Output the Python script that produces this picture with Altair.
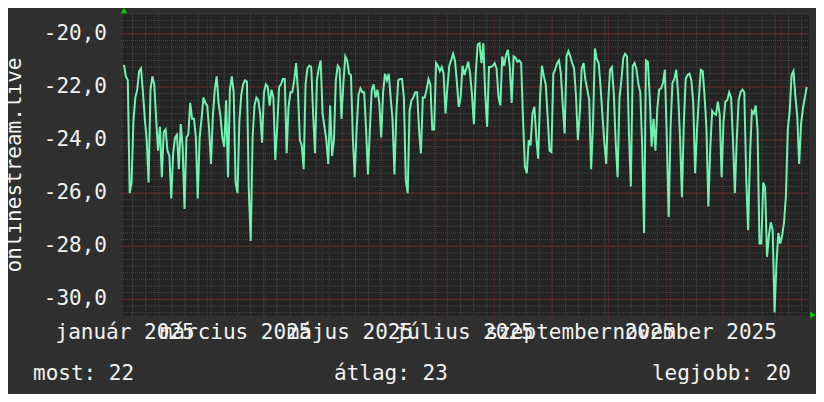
import altair as alt
import pandas as pd

# ---------------- data ----------------
series_start = "2025-01-15T11:00:00Z"   # first sample
sample_step_hours = 24.22               # spacing of samples
values = [
    # jan - mar
    -21.17, -21.61, -21.74, -26.0, -25.6, -23.25, -22.4, -22.1, -21.4, -21.3,
    -22.2, -23.2, -24.0, -25.6, -22.1, -21.6, -21.9, -23.2, -24.4, -23.5,
    -25.4, -23.7, -23.6, -24.4, -24.6, -26.2, -24.5, -23.9, -23.8, -25.1,
    -23.4, -24.25, -26.6, -23.9, -23.8, -22.6, -23.2, -23.2, -23.9, -26.2,
    -23.9, -23.2, -22.4, -22.6, -22.7, -23.6, -24.9, -23.1, -22.1, -21.6,
    -22.6, -23.1, -23.9, -24.25, -22.5, -25.4, -22.1, -21.6, -22.2, -25.6,
    -26.0, -23.3,
    # mar - may
    -22.3, -21.9, -21.75, -21.8, -25.9, -27.8, -23.9, -22.7, -22.4, -22.5,
    -23.0, -24.1, -22.2, -21.9, -22.0, -22.7, -22.1, -22.4, -24.75, -23.5,
    -22.0, -21.9, -21.7, -21.7, -24.5, -22.75, -22.2, -22.2, -21.75, -21.1,
    -22.2, -24.0, -24.2, -25.1, -21.9, -21.3, -21.2, -21.25, -23.0, -24.5,
    -21.75, -21.3, -21.0, -23.0, -23.5, -24.0, -24.9, -22.7, -24.6, -24.0,
    -21.75, -21.2, -21.3, -23.2, -21.85, -20.85, -21.0, -21.5, -21.55, -23.9,
    -25.4,
    # may - jul
    -23.6, -22.3, -22.05, -22.2, -22.2, -23.6, -25.3, -23.6, -22.1, -21.9,
    -22.4, -22.1, -22.6, -23.9, -22.2, -21.5, -21.75, -21.5, -22.4, -23.25,
    -25.3, -23.0, -21.75, -21.7, -21.7, -22.4, -25.5, -26.0, -22.9, -22.5,
    -22.4, -22.2, -22.2, -23.6, -24.5, -22.4, -22.4, -22.1, -21.7, -21.9,
    -23.6, -23.6, -21.1, -21.2, -21.4, -21.25, -21.5, -23.0, -22.0, -21.2,
    -21.0, -20.75, -21.0, -21.8, -22.75, -22.4, -21.2, -21.55, -21.3, -21.05,
    # jul - sep
    -21.5, -22.3, -23.4, -21.5, -20.4, -20.35, -21.1, -20.35, -22.25, -23.5,
    -21.25, -21.25, -21.2, -21.1, -21.3, -22.35, -22.7, -20.85, -21.2, -20.8,
    -20.6, -21.25, -22.6, -20.85, -20.9, -21.05, -21.0, -21.1, -23.25, -25.0,
    -25.25, -24.0, -24.2, -23.0, -22.75, -23.9, -24.7, -22.4, -21.2, -21.6,
    -21.9, -23.1, -24.4, -24.45, -21.5, -21.35, -21.1, -21.0, -21.5, -22.7,
    -23.75, -20.85, -20.65, -20.85, -21.1, -21.3, -22.35, -24.0, -23.0, -21.3,
    -21.1,
    # sep - nov
    -21.75, -22.1, -22.5, -25.1, -23.4, -20.55, -20.95, -21.1, -22.0, -23.1,
    -24.1, -24.9, -22.6, -21.35, -21.25, -22.25, -24.1, -25.4, -22.4, -21.75,
    -20.9, -20.75, -20.85, -23.75, -25.75, -21.2, -21.1, -21.35, -21.9, -22.2,
    -24.25, -27.5, -21.0, -21.05, -22.4, -24.25, -23.2, -24.4, -22.8, -22.1,
    -22.05, -21.85, -21.35, -23.9, -26.9, -23.5, -21.85, -21.7, -21.35, -22.25,
    -23.9, -26.15, -23.4, -21.7, -21.55, -21.5, -21.75, -22.6, -25.25, -23.6,
    -22.4,
    # nov - jan
    -21.35, -21.4, -22.35, -23.6, -26.5, -24.3, -22.9, -23.0, -23.05, -22.55,
    -23.05, -25.4, -23.3, -22.55, -22.5, -22.2, -22.4, -24.0, -26.0, -24.0,
    -22.5, -22.2, -22.1, -22.2, -25.4, -27.4, -24.6, -22.9, -23.0, -22.7,
    -23.6, -27.9, -27.9, -25.6, -25.8, -28.4, -27.6, -27.1, -27.4, -30.5,
    -28.65, -27.5, -27.9, -27.6, -27.1, -26.1, -23.6, -22.9, -21.55, -21.4,
    -22.35, -23.1, -24.9, -23.4, -22.8, -22.4, -22.0,
]

month_lines = ["2025-02-01", "2025-03-01", "2025-04-01", "2025-05-01", "2025-06-01",
               "2025-07-01", "2025-08-01", "2025-09-01", "2025-10-01", "2025-11-01",
               "2025-12-01", "2026-01-01"]
month_label_dates = ["2025-01-16", "2025-03-16", "2025-05-16", "2025-07-16",
                     "2025-09-16", "2025-11-16"]
month_label_texts = ["január 2025", "március 2025", "május 2025", "július 2025",
                     "szeptember 2025", "november 2025"]
y_major = [-30, -28, -26, -24, -22, -20]
y_major_labels = ["-30,0", "-28,0", "-26,0", "-24,0", "-22,0", "-20,0"]
y_title = "onlinestream.live"
legend_texts = ["most: 22", "átlag: 23", "legjobb: 20"]

# ---------------- tables ----------------
t0 = pd.Timestamp(series_start)
df = pd.DataFrame({
    "t": [(t0 + pd.Timedelta(hours=sample_step_hours * i)).strftime("%Y-%m-%dT%H:%M:%SZ")
          for i in range(len(values))],
    "v": values,
})
weeks = pd.date_range("2025-01-20", "2026-01-12", freq="7D").strftime("%Y-%m-%d").tolist()
minor_df = pd.DataFrame({"t": weeks})
major_df = pd.DataFrame({"t": month_lines})
ylab_df = pd.DataFrame({"v": y_major, "lab": y_major_labels})
yminor_df = pd.DataFrame({"v": [-30.5 + 0.25 * k for k in range(46)]})
xlab_df = pd.DataFrame({"t": month_label_dates, "lab": month_label_texts})

W, H = 686, 302
FONT = "DejaVu Sans Mono"
FS = 21
TXT = "#f2f2f2"
MINOR = "#464646"
MAJOR = "#682b2b"

xs = alt.Scale(type="utc", domain=[
    alt.DateTime(year=2025, month=1, date=14, hours=22, minutes=10, utc=True),
    alt.DateTime(year=2026, month=1, date=15, hours=23, minutes=36, utc=True)])
ys = alt.Scale(domain=[-30.63, -19.25], nice=False, zero=False)
X = lambda: alt.X("t:T", scale=xs, axis=None)
Y = lambda: alt.Y("v:Q", scale=ys, axis=None)
one = alt.Data(values=[{}])

minor_v = alt.Chart(minor_df).mark_rule(color=MINOR, strokeWidth=1, strokeDash=[1, 1]).encode(
    x=X(), y=alt.value(0), y2=alt.value(H + 2))
minor_h = alt.Chart(yminor_df).mark_rule(color=MINOR, strokeWidth=1, strokeDash=[1, 1]).encode(
    y=Y(), x=alt.value(-2), x2=alt.value(W))
major_v = alt.Chart(major_df).mark_rule(color=MAJOR, strokeWidth=1, strokeDash=[1, 1]).encode(
    x=X(), y=alt.value(0), y2=alt.value(H + 3))
major_h = alt.Chart(ylab_df).mark_rule(color=MAJOR, strokeWidth=1, strokeDash=[1, 1]).encode(
    y=Y(), x=alt.value(-3), x2=alt.value(W))

line = alt.Chart(df).mark_line(color="#70f2b2", strokeWidth=2).encode(x=X(), y=Y())

ylabels = alt.Chart(ylab_df).mark_text(font=FONT, fontSize=FS, color=TXT, align="right",
                                       baseline="middle").encode(
    y=Y(), x=alt.value(-16), text="lab:N")
xlabels = alt.Chart(xlab_df).mark_text(font=FONT, fontSize=FS, color=TXT, align="center",
                                       baseline="alphabetic").encode(
    x=X(), y=alt.value(325), text="lab:N")
ytitle = alt.Chart(one).mark_text(font=FONT, fontSize=FS, color=TXT, align="center",
                                  baseline="alphabetic", angle=270, text=y_title).encode(
    x=alt.value(-102), y=alt.value(H / 2))
leg1 = alt.Chart(one).mark_text(font=FONT, fontSize=FS, color=TXT, align="left",
                                baseline="alphabetic", text=legend_texts[0]).encode(
    x=alt.value(-90), y=alt.value(366))
leg2 = alt.Chart(one).mark_text(font=FONT, fontSize=FS, color=TXT, align="left",
                                baseline="alphabetic", text=legend_texts[1]).encode(
    x=alt.value(211), y=alt.value(366))
leg3 = alt.Chart(one).mark_text(font=FONT, fontSize=FS, color=TXT, align="right",
                                baseline="alphabetic", text=legend_texts[2]).encode(
    x=alt.value(668), y=alt.value(366))
arrow_up = alt.Chart(one).mark_point(shape="triangle-up", filled=True, color="#00d000",
                                     size=40, opacity=1).encode(
    x=alt.value(1), y=alt.value(-3.5))
arrow_right = alt.Chart(one).mark_point(shape="triangle-right", filled=True, color="#00d000",
                                        size=40, opacity=1).encode(
    x=alt.value(W + 4), y=alt.value(H - 1))

chart = alt.layer(
    minor_v, minor_h, major_v, major_h, line, ylabels, xlabels, ytitle,
    leg1, leg2, leg3, arrow_up, arrow_right
).properties(
    width=W, height=H,
    padding={"left": 115, "top": 6, "right": 7, "bottom": 78},
    autosize=alt.AutoSizeParams(type="none"),
    background="#2f2f2f",
).configure_view(stroke=None, fill="#232323")

chart.save("out.html", embed_options={"renderer": "svg", "actions": False})
